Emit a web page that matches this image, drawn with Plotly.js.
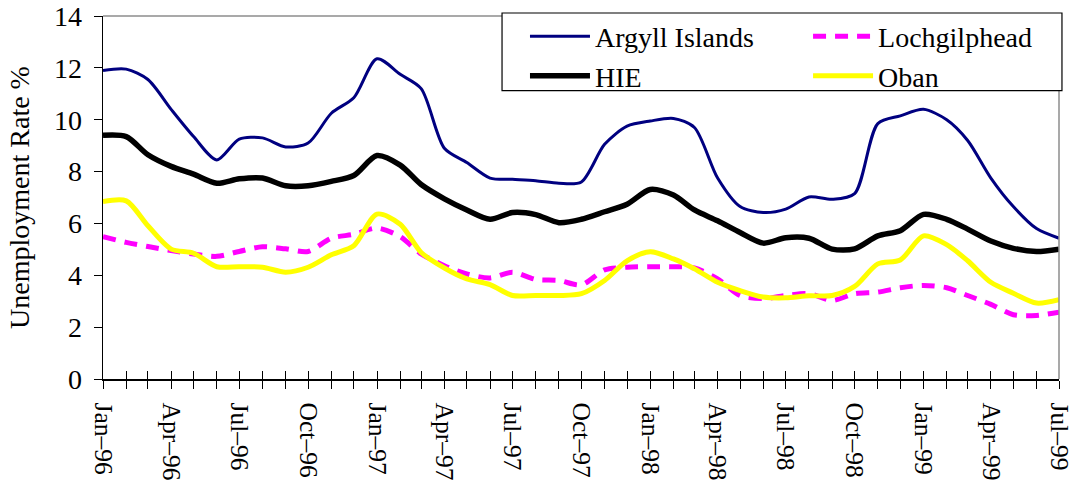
<!DOCTYPE html>
<html>
<head>
<meta charset="utf-8">
<script src="https://cdn.plot.ly/plotly-3.0.1.min.js"></script>
<style>html,body{margin:0;padding:0;background:#fff;}#chart{width:1074px;height:486px;}</style>
</head>
<body>
<div id="chart"></div>
<script>
// Months Jan-96 .. Jul-99
const months = [
  '1996-01-01','1996-02-01','1996-03-01','1996-04-01','1996-05-01','1996-06-01',
  '1996-07-01','1996-08-01','1996-09-01','1996-10-01','1996-11-01','1996-12-01',
  '1997-01-01','1997-02-01','1997-03-01','1997-04-01','1997-05-01','1997-06-01',
  '1997-07-01','1997-08-01','1997-09-01','1997-10-01','1997-11-01','1997-12-01',
  '1998-01-01','1998-02-01','1998-03-01','1998-04-01','1998-05-01','1998-06-01',
  '1998-07-01','1998-08-01','1998-09-01','1998-10-01','1998-11-01','1998-12-01',
  '1999-01-01','1999-02-01','1999-03-01','1999-04-01','1999-05-01','1999-06-01',
  '1999-07-01'
];

const argyllIslands = [11.9, 11.95, 11.55, 10.4, 9.35, 8.45, 9.25, 9.3, 8.95, 9.1, 10.25, 10.85,
  12.35, 11.75, 11.2, 8.9, 8.35, 7.75, 7.7, 7.65, 7.55, 7.6, 9.05, 9.75,
  9.95, 10.05, 9.7, 7.75, 6.65, 6.42, 6.55, 7.02, 6.93, 7.15, 9.85, 10.15,
  10.4, 10.0, 9.2, 7.75, 6.65, 5.8, 5.43];

const hie = [9.4, 9.35, 8.65, 8.2, 7.9, 7.55, 7.72, 7.75, 7.45, 7.45, 7.62, 7.85,
  8.62, 8.25, 7.5, 6.95, 6.52, 6.16, 6.42, 6.34, 6.03, 6.16, 6.45, 6.74,
  7.31, 7.1, 6.52, 6.1, 5.65, 5.24, 5.45, 5.43, 5.01, 5.02, 5.52, 5.72,
  6.35, 6.16, 5.78, 5.32, 5.04, 4.92, 5.01];

const lochgilphead = [5.49, 5.27, 5.11, 4.95, 4.82, 4.73, 4.92, 5.1, 5.02, 4.92, 5.43, 5.58,
  5.82, 5.49, 4.82, 4.37, 4.05, 3.9, 4.12, 3.84, 3.8, 3.63, 4.21, 4.31,
  4.33, 4.33, 4.28, 3.86, 3.22, 3.1, 3.22, 3.29, 3.03, 3.29, 3.35, 3.52,
  3.61, 3.52, 3.22, 2.88, 2.48, 2.45, 2.58];

const oban = [6.84, 6.87, 5.91, 5.01, 4.85, 4.33, 4.33, 4.31, 4.12, 4.31, 4.79, 5.14,
  6.36, 5.97, 4.88, 4.28, 3.86, 3.64, 3.22, 3.22, 3.22, 3.29, 3.8, 4.56,
  4.91, 4.63, 4.25, 3.73, 3.41, 3.16, 3.13, 3.21, 3.22, 3.57, 4.44, 4.59,
  5.52, 5.18, 4.56, 3.73, 3.31, 2.93, 3.06];

const tickMonths = ['1996-01-01','1996-04-01','1996-07-01','1996-10-01','1997-01-01','1997-04-01',
  '1997-07-01','1997-10-01','1998-01-01','1998-04-01','1998-07-01','1998-10-01',
  '1999-01-01','1999-04-01','1999-07-01'];
const tickLabels = ['Jan–96','Apr–96','Jul–96','Oct–96','Jan–97','Apr–97','Jul–97','Oct–97',
  'Jan–98','Apr–98','Jul–98','Oct–98','Jan–99','Apr–99','Jul–99'];

const FONT = '"Liberation Serif", "Times New Roman", serif';
const FS = 28;

const traces = [
  {name:'Argyll Islands', x:months, y:argyllIslands, type:'scatter', mode:'lines', xaxis:'x2', yaxis:'y',
   line:{color:'#000080', width:3, shape:'spline', smoothing:0.8}, legend:'legend', legendrank:1},
  {name:'HIE', x:months, y:hie, type:'scatter', mode:'lines',
   line:{color:'#000000', width:5.5, shape:'spline', smoothing:0.8}, legend:'legend', legendrank:2},
  {name:'Lochgilphead', x:months, y:lochgilphead, type:'scatter', mode:'lines',
   line:{color:'#FF00FF', width:5, dash:'13px,9px', shape:'spline', smoothing:0.8}, legend:'legend2', legendrank:1},
  {name:'Oban', x:months, y:oban, type:'scatter', mode:'lines',
   line:{color:'#FFFF00', width:5, shape:'spline', smoothing:0.8}, legend:'legend2', legendrank:2}
];

const xRange = ['1996-01-01','1999-07-01'];

const layout = {
  width:1074, height:486,
  margin:{l:103, r:15, t:14, b:107, pad:0},
  paper_bgcolor:'#ffffff', plot_bgcolor:'#ffffff',
  font:{family:FONT, size:FS, color:'#000'},
  showlegend:true,
  xaxis:{
    type:'date', range:xRange, fixedrange:true,
    tickmode:'array', tickvals:tickMonths, ticktext:tickLabels,
    tickangle:90, ticks:'outside', ticklen:8, tickwidth:1, tickcolor:'#000',
    ticklabelstandoff:9, ticklabeloverflow:'allow',
    minor:{dtick:'M1', tick0:'1996-01-01', ticks:'outside', ticklen:8, tickwidth:1, tickcolor:'#000', showgrid:false},
    showline:true, linecolor:'#000', linewidth:1.5, showgrid:false, zeroline:false,
    tickfont:{family:FONT, size:25.5, color:'#000'}
  },
  xaxis2:{
    type:'date', range:xRange, overlaying:'x', anchor:'y', side:'bottom', fixedrange:true,
    tickmode:'array', tickvals:tickMonths, showticklabels:false,
    ticks:'inside', ticklen:8, tickwidth:1, tickcolor:'#000',
    minor:{dtick:'M1', tick0:'1996-01-01', ticks:'inside', ticklen:8, tickwidth:1, tickcolor:'#000', showgrid:false},
    showline:false, showgrid:false, zeroline:false
  },
  yaxis:{
    range:[0,14], dtick:2, tick0:0, fixedrange:true,
    ticks:'outside', ticklen:8, tickwidth:1, tickcolor:'#000',
    ticklabelstandoff:6, ticklabeloverflow:'allow',
    showline:true, linecolor:'#000', linewidth:1.5, showgrid:false, zeroline:false,
    tickfont:{family:FONT, size:FS, color:'#000'},
    title:{text:'Unemployment Rate %', font:{family:FONT, size:FS, color:'#000'}, standoff:16}
  },
  legend:{
    x:0.4414, y:1.012, xanchor:'left', yanchor:'top', orientation:'v',
    bgcolor:'rgba(0,0,0,0)', borderwidth:0, itemwidth:60, tracegroupgap:0,
    font:{family:FONT, size:FS, color:'#000'}
  },
  legend2:{
    x:0.7375, y:1.012, xanchor:'left', yanchor:'top', orientation:'v',
    bgcolor:'rgba(0,0,0,0)', borderwidth:0, itemwidth:60, tracegroupgap:0,
    font:{family:FONT, size:FS, color:'#000'}
  },
  shapes:[
    {type:'line', xref:'paper', yref:'paper', x0:0, x1:1, y0:1, y1:1, line:{color:'#8c8c8c', width:1.5}, layer:'above'},
    {type:'line', xref:'paper', yref:'paper', x0:1, x1:1, y0:0, y1:1, line:{color:'#8c8c8c', width:1.5}, layer:'above'},
    {type:'rect', xref:'paper', yref:'paper', x0:0.4174, x1:1.0031, y0:0.7945, y1:1.0082,
     fillcolor:'#ffffff', line:{color:'#000', width:1.2}, layer:'above'}
  ]
};

Plotly.newPlot('chart', traces, layout, {displayModeBar:false, staticPlot:true});
</script>
</body>
</html>
